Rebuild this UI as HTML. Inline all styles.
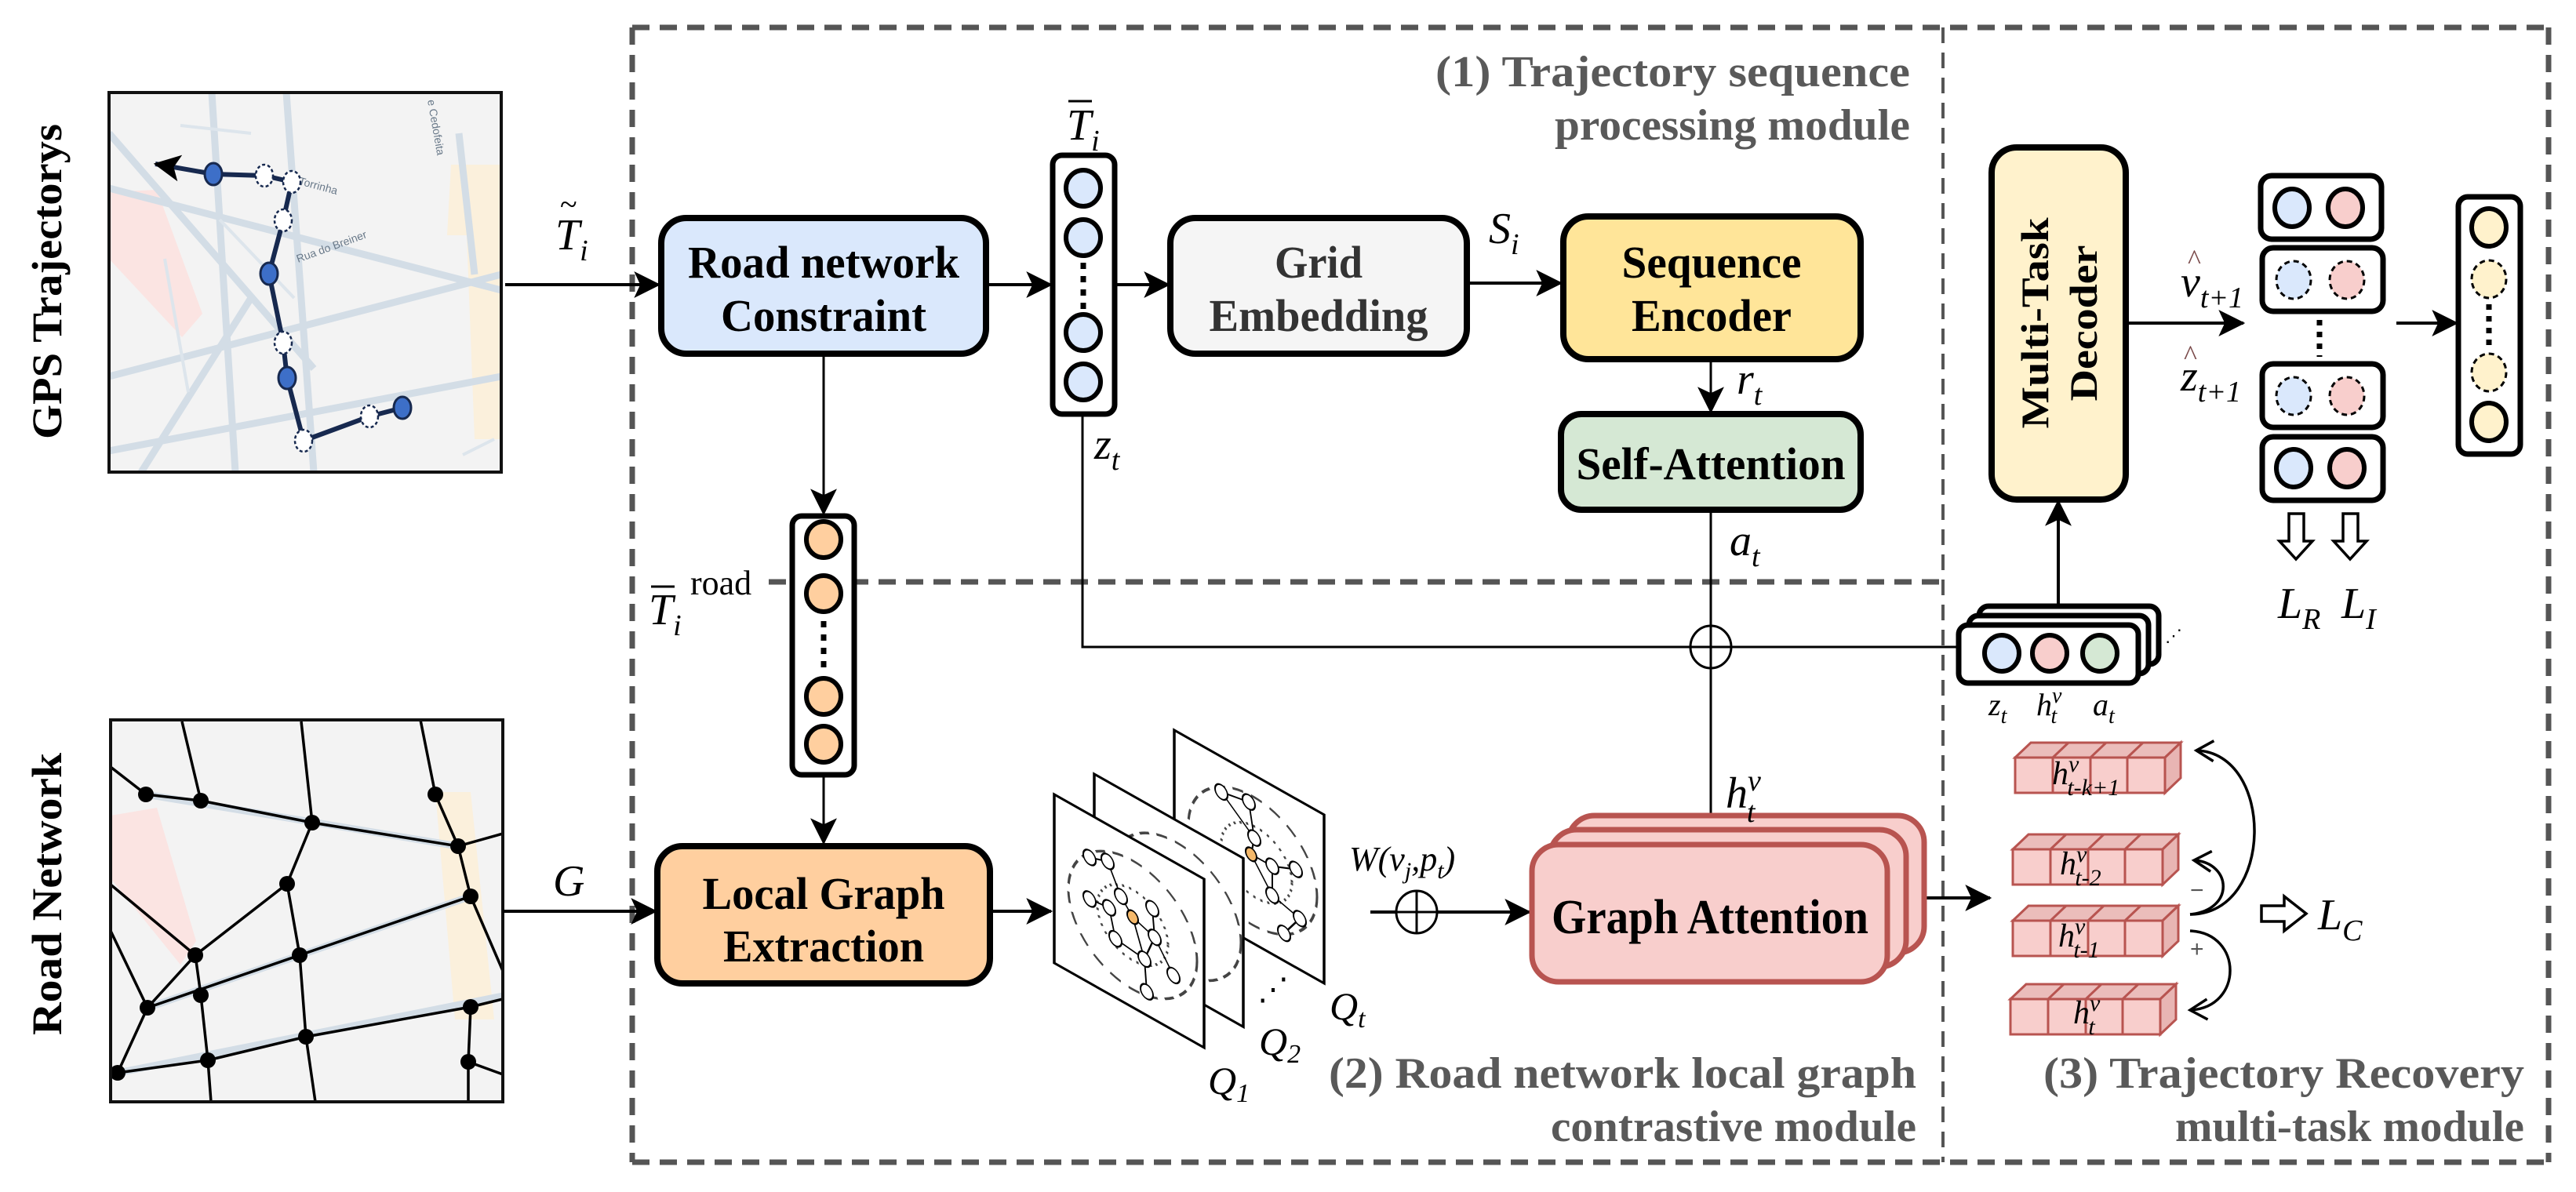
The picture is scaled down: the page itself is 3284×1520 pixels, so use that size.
<!DOCTYPE html>
<html><head><meta charset="utf-8"><style>
html,body{margin:0;padding:0;background:#fff;}
svg{display:block;}
.b{font-family:"Liberation Serif",serif;font-weight:bold;}
.m{font-family:"Liberation Serif",serif;font-style:italic;}
.g{font-family:"Liberation Serif",serif;font-weight:bold;fill:#595959;}
</style></head><body>
<svg width="3284" height="1520" viewBox="0 0 3284 1520" xmlns="http://www.w3.org/2000/svg">
<defs>
<marker id="ah" viewBox="0 0 20 20" refX="18" refY="10" markerWidth="20" markerHeight="20" markerUnits="userSpaceOnUse" orient="auto">
<path d="M0,0 L20,10 L0,20 L5,10 Z" fill="#000"/></marker>
<marker id="ahb" viewBox="0 0 30 30" refX="28" refY="15" markerWidth="34" markerHeight="34" markerUnits="userSpaceOnUse" orient="auto-start-reverse">
<path d="M0,0 L30,15 L0,30 L7,15 Z" fill="#000"/></marker>
<marker id="oa" viewBox="0 0 30 30" refX="26" refY="15" markerWidth="30" markerHeight="30" markerUnits="userSpaceOnUse" orient="auto">
<path d="M4,2 L26,15 L4,28" fill="none" stroke="#000" stroke-width="3.5"/></marker>
</defs>

<g stroke="#555" stroke-width="7" stroke-dasharray="22,13" fill="none">
<line x1="806" y1="35" x2="3249" y2="35"/>
<line x1="806" y1="35" x2="806" y2="1482"/>
<line x1="806" y1="1482" x2="3249" y2="1482"/>
<line x1="3249" y1="35" x2="3249" y2="1482"/>
<line x1="980" y1="742" x2="2477" y2="742"/>
</g>
<line x1="2477" y1="35" x2="2477" y2="1482" stroke="#555" stroke-width="4" stroke-dasharray="20,12"/>

<text class="g" x="2435" y="110" font-size="56" text-anchor="end" textLength="605" lengthAdjust="spacingAndGlyphs">(1)  Trajectory sequence</text>
<text class="g" x="2435" y="178" font-size="56" text-anchor="end" textLength="453" lengthAdjust="spacingAndGlyphs">processing module</text>
<text class="g" x="2443" y="1387" font-size="56" text-anchor="end" textLength="749" lengthAdjust="spacingAndGlyphs">(2)  Road network local graph</text>
<text class="g" x="2443" y="1455" font-size="56" text-anchor="end" textLength="466" lengthAdjust="spacingAndGlyphs">contrastive module</text>
<text class="g" x="3218" y="1387" font-size="56" text-anchor="end" textLength="613" lengthAdjust="spacingAndGlyphs">(3)  Trajectory Recovery</text>
<text class="g" x="3218" y="1455" font-size="56" text-anchor="end" textLength="445" lengthAdjust="spacingAndGlyphs">multi-task module</text>

<text class="b" font-size="54" transform="translate(78,359) rotate(-90)" text-anchor="middle" textLength="402" lengthAdjust="spacingAndGlyphs">GPS Trajectorys</text>
<text class="b" font-size="54" transform="translate(78,1140) rotate(-90)" text-anchor="middle" textLength="360" lengthAdjust="spacingAndGlyphs">Road Network</text>

<svg x="139" y="118" width="500" height="484" viewBox="139 118 500 484">
<rect x="139" y="118" width="500" height="484" fill="#f3f3f3"/>
<polygon points="139,245 200,242 258,400 232,430 139,330" fill="#fbe4e2"/>
<polygon points="575,210 645,210 655,560 605,560 595,300 570,300" fill="#fbf0dc"/>
<g stroke="#d3dde6" stroke-width="9" fill="none">
<line x1="139" y1="240" x2="639" y2="370" />
<line x1="139" y1="480" x2="639" y2="350"/>
<line x1="139" y1="575" x2="639" y2="480"/>
<line x1="139" y1="170" x2="400" y2="470"/>
<line x1="365" y1="118" x2="400" y2="602"/>
<line x1="270" y1="118" x2="300" y2="602"/>
<line x1="585" y1="170" x2="605" y2="350"/>
<line x1="320" y1="380" x2="180" y2="602"/>
</g>
<g stroke="#dde5ec" stroke-width="4" fill="none">
<line x1="375" y1="380" x2="280" y2="280"/><line x1="210" y1="330" x2="240" y2="500"/>
<line x1="230" y1="160" x2="320" y2="170"/><line x1="590" y1="580" x2="630" y2="560"/>
</g>
<text x="380" y="335" font-family="Liberation Sans,sans-serif" font-size="14" fill="#6a7a8a" transform="rotate(-20 380 335)">Rua do Breiner</text>
<text x="380" y="235" font-family="Liberation Sans,sans-serif" font-size="14" fill="#6a7a8a" transform="rotate(15 380 235)">Torrinha</text>
<text x="545" y="128" font-family="Liberation Sans,sans-serif" font-size="14" fill="#6a7a8a" transform="rotate(80 545 128)">e Cedofeita</text>
<polyline points="198,209 272,222 337,224 372,232 361,281 343,349 361,437 366,482 387,562 471,531 513,520" fill="none" stroke="#17294f" stroke-width="6" marker-start="url(#ahb)"/>
<g stroke="#17294f" stroke-width="3">
<ellipse cx="272" cy="222" rx="11" ry="14" fill="#3d6fc8"/>
<ellipse cx="343" cy="349" rx="11" ry="14" fill="#3d6fc8"/>
<ellipse cx="366" cy="482" rx="11" ry="14" fill="#3d6fc8"/>
<ellipse cx="513" cy="520" rx="11" ry="14" fill="#3d6fc8"/>
</g>
<g stroke="#17294f" stroke-width="2.5" fill="#fff" stroke-dasharray="4,3">
<ellipse cx="337" cy="224" rx="11" ry="14"/><ellipse cx="372" cy="232" rx="11" ry="14"/>
<ellipse cx="361" cy="281" rx="11" ry="14"/><ellipse cx="361" cy="437" rx="11" ry="14"/>
<ellipse cx="387" cy="562" rx="11" ry="14"/><ellipse cx="471" cy="531" rx="11" ry="14"/>
</g>
</svg>
<rect x="139" y="118" width="500" height="484" fill="none" stroke="#111" stroke-width="4"/>

<svg x="141" y="918" width="500" height="487" viewBox="141 918 500 487">
<rect x="141" y="918" width="500" height="487" fill="#f3f3f3"/>
<polygon points="141,1040 200,1030 250,1200 230,1230 141,1120" fill="#fbe4e2"/>
<polygon points="555,1010 600,1010 630,1300 580,1300" fill="#fbf0dc"/>
<g stroke="#d3dde6" stroke-width="9" fill="none">
<line x1="186" y1="1013" x2="584" y2="1079"/><line x1="188" y1="1285" x2="600" y2="1143"/>
<line x1="150" y1="1368" x2="641" y2="1270"/>
</g>
<g stroke="#000" stroke-width="3.5" fill="none">
<polyline points="141,978 186,1013 256,1021 398,1049 584,1079 641,1063"/>
<line x1="232" y1="920" x2="256" y2="1021"/>
<polyline points="384,920 398,1049 366,1127 382,1218 390,1322 402,1405"/>
<polyline points="536,918 555,1013 584,1079 600,1143 641,1238"/>
<polyline points="600,1143 382,1218 188,1285"/>
<line x1="366" y1="1127" x2="249" y2="1218"/>
<line x1="141" y1="1128" x2="249" y2="1218"/>
<polyline points="249,1218 256,1269 265,1352 269,1405"/>
<line x1="249" y1="1218" x2="188" y2="1285"/>
<line x1="141" y1="1187" x2="188" y2="1285"/>
<line x1="188" y1="1285" x2="150" y2="1368"/>
<polyline points="150,1368 265,1352 390,1322 600,1284 641,1274"/>
<polyline points="600,1284 597,1354 597,1405"/>
<line x1="597" y1="1354" x2="641" y2="1370"/>
</g>
<g fill="#000">
<circle cx="186" cy="1013" r="10"/><circle cx="256" cy="1021" r="10"/><circle cx="398" cy="1049" r="10"/>
<circle cx="555" cy="1013" r="10"/><circle cx="584" cy="1079" r="10"/><circle cx="366" cy="1127" r="10"/>
<circle cx="600" cy="1143" r="10"/><circle cx="249" cy="1218" r="10"/><circle cx="382" cy="1218" r="10"/>
<circle cx="256" cy="1269" r="10"/><circle cx="188" cy="1285" r="10"/><circle cx="390" cy="1322" r="10"/>
<circle cx="600" cy="1284" r="10"/><circle cx="265" cy="1352" r="10"/><circle cx="150" cy="1368" r="10"/>
<circle cx="597" cy="1354" r="10"/>
</g>
</svg>
<rect x="141" y="918" width="500" height="487" fill="none" stroke="#111" stroke-width="4"/>

<g stroke="#000" stroke-width="4" fill="none">
<line x1="644" y1="363" x2="840" y2="363" marker-end="url(#ahb)"/>
<line x1="1257" y1="363" x2="1340" y2="363" marker-end="url(#ahb)"/>
<line x1="1421" y1="363" x2="1490" y2="363" marker-end="url(#ahb)"/>
<line x1="1870" y1="361" x2="1990" y2="361" marker-end="url(#ahb)"/>
<line x1="2181" y1="458" x2="2181" y2="525" stroke-width="3" marker-end="url(#ahb)"/>
<line x1="1050" y1="451" x2="1050" y2="655" stroke-width="3" marker-end="url(#ahb)"/>
<line x1="1050" y1="988" x2="1050" y2="1075" stroke-width="3" marker-end="url(#ahb)"/>
<line x1="641" y1="1162" x2="836" y2="1162" marker-end="url(#ahb)"/>
<line x1="1262" y1="1162" x2="1340" y2="1162" marker-end="url(#ahb)"/>
<line x1="1747" y1="1163" x2="1950" y2="1163" marker-end="url(#ahb)"/>
<line x1="2432" y1="1145" x2="2537" y2="1145" marker-end="url(#ahb)"/>
<line x1="2710" y1="412" x2="2860" y2="412" marker-end="url(#ahb)"/>
<line x1="3055" y1="412" x2="3132" y2="412" marker-end="url(#ahb)"/>
<line x1="2624" y1="770" x2="2624" y2="639" marker-end="url(#ahb)"/>
</g>
<g stroke="#000" stroke-width="3" fill="none">
<polyline points="1380,528 1380,825 2497,825"/>
<line x1="2181" y1="650" x2="2181" y2="1063"/>
<ellipse cx="2181" cy="825" rx="26" ry="27" fill="#fff"/>
<line x1="2155" y1="825" x2="2207" y2="825"/><line x1="2181" y1="798" x2="2181" y2="852"/>
<ellipse cx="1806" cy="1163" rx="26" ry="27" fill="#fff"/>
<line x1="1780" y1="1163" x2="1832" y2="1163"/><line x1="1806" y1="1136" x2="1806" y2="1190"/>
</g>

<g stroke="#000" stroke-width="8">
<rect x="843" y="278" width="414" height="173" rx="32" fill="#dae8fc"/>
<rect x="1492" y="278" width="378" height="173" rx="32" fill="#f5f5f5"/>
<rect x="1993" y="276" width="379" height="182" rx="32" fill="#ffe599"/>
<rect x="1990" y="528" width="382" height="122" rx="26" fill="#d5e8d4"/>
<rect x="838" y="1079" width="424" height="175" rx="32" fill="#ffcf9f"/>
<rect x="2539" y="188" width="171" height="449" rx="32" fill="#fff2cc"/>
</g>
<text class="b" x="1050" y="354" font-size="58" text-anchor="middle" textLength="346" lengthAdjust="spacingAndGlyphs">Road network</text>
<text class="b" x="1050" y="422" font-size="58" text-anchor="middle" textLength="262" lengthAdjust="spacingAndGlyphs">Constraint</text>
<text class="b" x="1681" y="354" font-size="58" text-anchor="middle" fill="#333" textLength="112" lengthAdjust="spacingAndGlyphs">Grid</text>
<text class="b" x="1681" y="422" font-size="58" text-anchor="middle" fill="#333" textLength="279" lengthAdjust="spacingAndGlyphs">Embedding</text>
<text class="b" x="2182" y="354" font-size="58" text-anchor="middle" textLength="229" lengthAdjust="spacingAndGlyphs">Sequence</text>
<text class="b" x="2182" y="422" font-size="58" text-anchor="middle" textLength="204" lengthAdjust="spacingAndGlyphs">Encoder</text>
<text class="b" x="2181" y="611" font-size="58" text-anchor="middle" textLength="343" lengthAdjust="spacingAndGlyphs">Self-Attention</text>
<text class="b" x="1050" y="1159" font-size="58" text-anchor="middle" textLength="309" lengthAdjust="spacingAndGlyphs">Local Graph</text>
<text class="b" x="1050" y="1226" font-size="58" text-anchor="middle" textLength="256" lengthAdjust="spacingAndGlyphs">Extraction</text>
<g transform="translate(2625,412) rotate(-90)">
<text class="b" x="0" y="-14" font-size="50" text-anchor="middle" textLength="269" lengthAdjust="spacingAndGlyphs">Multi-Task</text>
<text class="b" x="0" y="48" font-size="50" text-anchor="middle" textLength="199" lengthAdjust="spacingAndGlyphs">Decoder</text>
</g>

<g stroke="#b85450" stroke-width="7" fill="#f8cecc">
<rect x="1999" y="1040" width="454" height="175" rx="34"/>
<rect x="1976" y="1058" width="454" height="175" rx="34"/>
<rect x="1953" y="1077" width="453" height="175" rx="34"/>
</g>
<text class="b" x="2180" y="1190" font-size="62" text-anchor="middle" textLength="404" lengthAdjust="spacingAndGlyphs">Graph Attention</text>

<rect x="1342" y="198" width="79" height="330" rx="12" fill="#fff" stroke="#000" stroke-width="7"/>
<g fill="#dae8fc" stroke="#000" stroke-width="6">
<ellipse cx="1381" cy="240" rx="22" ry="23"/><ellipse cx="1381" cy="303" rx="22" ry="23"/>
<ellipse cx="1381" cy="424" rx="22" ry="23"/><ellipse cx="1381" cy="487" rx="22" ry="23"/>
</g>
<line x1="1381" y1="335" x2="1381" y2="395" stroke="#000" stroke-width="7" stroke-dasharray="8,9"/>

<rect x="1010" y="658" width="79" height="330" rx="12" fill="#fff" stroke="#000" stroke-width="7"/>
<g fill="#ffcf9f" stroke="#000" stroke-width="6">
<ellipse cx="1050" cy="688" rx="22" ry="23"/><ellipse cx="1050" cy="757" rx="22" ry="23"/>
<ellipse cx="1050" cy="888" rx="22" ry="23"/><ellipse cx="1050" cy="949" rx="22" ry="23"/>
</g>
<line x1="1050" y1="792" x2="1050" y2="852" stroke="#000" stroke-width="7" stroke-dasharray="8,9"/>

<g stroke="#000" stroke-width="7" fill="#fff">
<rect x="2882" y="224" width="154" height="81" rx="14"/>
<rect x="2884" y="316" width="154" height="81" rx="14"/>
<rect x="2884" y="464" width="154" height="81" rx="14"/>
<rect x="2884" y="557" width="154" height="81" rx="14"/>
</g>
<g stroke="#000" stroke-width="6">
<ellipse cx="2922" cy="265" rx="22" ry="24" fill="#dae8fc"/><ellipse cx="2990" cy="265" rx="22" ry="24" fill="#f8cecc"/>
<ellipse cx="2924" cy="597" rx="22" ry="24" fill="#dae8fc"/><ellipse cx="2992" cy="597" rx="22" ry="24" fill="#f8cecc"/>
</g>
<g stroke="#000" stroke-width="3" stroke-dasharray="7,5">
<ellipse cx="2924" cy="357" rx="22" ry="24" fill="#dae8fc"/><ellipse cx="2992" cy="357" rx="22" ry="24" fill="#f8cecc"/>
<ellipse cx="2924" cy="505" rx="22" ry="24" fill="#dae8fc"/><ellipse cx="2992" cy="505" rx="22" ry="24" fill="#f8cecc"/>
</g>
<line x1="2957" y1="408" x2="2957" y2="455" stroke="#000" stroke-width="7" stroke-dasharray="7,8"/>

<rect x="3134" y="251" width="79" height="328" rx="12" fill="#fff" stroke="#000" stroke-width="7"/>
<ellipse cx="3173" cy="290" rx="22" ry="24" fill="#fff2cc" stroke="#000" stroke-width="6"/>
<ellipse cx="3173" cy="538" rx="22" ry="24" fill="#fff2cc" stroke="#000" stroke-width="6"/>
<ellipse cx="3173" cy="356" rx="22" ry="24" fill="#fff2cc" stroke="#000" stroke-width="3" stroke-dasharray="7,5"/>
<ellipse cx="3173" cy="475" rx="22" ry="24" fill="#fff2cc" stroke="#000" stroke-width="3" stroke-dasharray="7,5"/>
<line x1="3173" y1="388" x2="3173" y2="445" stroke="#000" stroke-width="7" stroke-dasharray="7,8"/>

<g fill="#fff" stroke="#000" stroke-width="3.5">
<path d="M2918,655 L2937,655 L2937,690 L2948,690 L2927,713 L2906,690 L2918,690 Z"/>
<path d="M2987,655 L3006,655 L3006,690 L3017,690 L2996,713 L2975,690 L2987,690 Z"/>
<path d="M2883,1155 L2912,1155 L2912,1143 L2940,1165 L2912,1187 L2912,1175 L2883,1175 Z"/>
</g>

<g stroke="#000" stroke-width="7" fill="#fff">
<rect x="2523" y="773" width="229" height="74" rx="12"/>
<rect x="2510" y="785" width="229" height="74" rx="12"/>
<rect x="2497" y="797" width="229" height="74" rx="12"/>
</g>
<g stroke="#000" stroke-width="6">
<ellipse cx="2552" cy="833" rx="22" ry="23" fill="#dae8fc"/>
<ellipse cx="2613" cy="833" rx="22" ry="23" fill="#f8cecc"/>
<ellipse cx="2677" cy="833" rx="22" ry="23" fill="#d5e8d4"/>
</g>
<text x="2760" y="818" font-size="22" fill="#000" font-family="Liberation Serif,serif">⋰</text>

<g stroke="#000" stroke-width="3.5">
<g transform="matrix(1,0.565,0,1,1497,931)">
<rect x="0" y="0" width="191" height="215" fill="#fff"/>
<ellipse cx="100" cy="110" rx="82" ry="82" fill="none" stroke="#444" stroke-width="3" stroke-dasharray="14,10"/>
<ellipse cx="105" cy="110" rx="45" ry="45" fill="none" stroke="#444" stroke-width="3" stroke-dasharray="3,6"/>
<g stroke-width="2" fill="#fff"><line x1="60" y1="45" x2="95" y2="38"/><line x1="95" y1="38" x2="102" y2="80"/><line x1="60" y1="45" x2="102" y2="80"/><line x1="102" y1="80" x2="98" y2="103"/><line x1="98" y1="103" x2="125" y2="103"/><line x1="125" y1="103" x2="125" y2="140"/><line x1="98" y1="103" x2="125" y2="140"/><line x1="125" y1="140" x2="160" y2="150"/><line x1="160" y1="150" x2="140" y2="180"/><line x1="125" y1="103" x2="155" y2="90"/>
<ellipse cx="60" cy="45" rx="8" ry="9"/><ellipse cx="95" cy="38" rx="8" ry="9"/><ellipse cx="102" cy="80" rx="8" ry="9"/><ellipse cx="125" cy="103" rx="8" ry="9"/><ellipse cx="125" cy="140" rx="8" ry="9"/><ellipse cx="160" cy="150" rx="8" ry="9"/><ellipse cx="140" cy="180" rx="8" ry="9"/><ellipse cx="155" cy="90" rx="8" ry="9"/><ellipse cx="98" cy="103" rx="7" ry="8" fill="#f5b96b"/></g>
</g>
<g transform="matrix(1,0.565,0,1,1395,987)">
<rect x="0" y="0" width="190" height="215" fill="#fff"/>
<ellipse cx="105" cy="110" rx="82" ry="82" fill="none" stroke="#444" stroke-width="3" stroke-dasharray="14,10"/>
</g>
<g transform="matrix(1,0.565,0,1,1344,1013)">
<rect x="0" y="0" width="191" height="215" fill="#fff"/>
<ellipse cx="100" cy="110" rx="82" ry="82" fill="none" stroke="#444" stroke-width="3" stroke-dasharray="14,10"/>
<ellipse cx="100" cy="110" rx="45" ry="45" fill="none" stroke="#444" stroke-width="3" stroke-dasharray="3,6"/>
<g stroke-width="2" fill="#fff"><line x1="45" y1="55" x2="68" y2="47"/><line x1="68" y1="47" x2="85" y2="82"/><line x1="85" y1="82" x2="100" y2="100"/><line x1="100" y1="100" x2="128" y2="110"/><line x1="128" y1="110" x2="125" y2="75"/><line x1="100" y1="100" x2="115" y2="145"/><line x1="128" y1="110" x2="115" y2="145"/><line x1="115" y1="145" x2="78" y2="140"/><line x1="78" y1="140" x2="70" y2="105"/><line x1="70" y1="105" x2="45" y2="108"/><line x1="128" y1="110" x2="152" y2="145"/><line x1="115" y1="145" x2="118" y2="185"/>
<ellipse cx="45" cy="55" rx="8" ry="9"/><ellipse cx="68" cy="47" rx="8" ry="9"/><ellipse cx="85" cy="82" rx="8" ry="9"/><ellipse cx="128" cy="110" rx="8" ry="9"/><ellipse cx="125" cy="75" rx="8" ry="9"/><ellipse cx="115" cy="145" rx="8" ry="9"/><ellipse cx="78" cy="140" rx="8" ry="9"/><ellipse cx="70" cy="105" rx="8" ry="9"/><ellipse cx="45" cy="108" rx="8" ry="9"/><ellipse cx="152" cy="145" rx="8" ry="9"/><ellipse cx="118" cy="185" rx="8" ry="9"/><ellipse cx="100" cy="100" rx="7" ry="8" fill="#f5b96b"/></g>
</g>
</g>
<text class="m" x="1540" y="1395" font-size="50">Q<tspan font-size="34" dy="10">1</tspan></text>
<text class="m" x="1605" y="1345" font-size="50">Q<tspan font-size="34" dy="10">2</tspan></text>
<text class="m" x="1695" y="1300" font-size="50">Q<tspan font-size="34" dy="10">t</tspan></text>
<text x="1603" y="1275" font-size="40" font-family="Liberation Serif,serif">⋰</text>

<g stroke="#b85450" stroke-width="3">
<g transform="translate(2569,966)"><polygon points="0,0 20,-19 211,-19 191,0" fill="#ebbdbb"/><polygon points="191,0 211,-19 211,26 191,45" fill="#e8b5b3"/><rect x="0" y="0" width="191" height="45" fill="#f8cecc"/><line x1="48" y1="0" x2="48" y2="45"/><line x1="96" y1="0" x2="96" y2="45"/><line x1="143" y1="0" x2="143" y2="45"/><line x1="48" y1="0" x2="68" y2="-19"/><line x1="96" y1="0" x2="116" y2="-19"/><line x1="143" y1="0" x2="163" y2="-19"/></g>
<g transform="translate(2566,1083)"><polygon points="0,0 20,-19 211,-19 191,0" fill="#ebbdbb"/><polygon points="191,0 211,-19 211,26 191,45" fill="#e8b5b3"/><rect x="0" y="0" width="191" height="45" fill="#f8cecc"/><line x1="48" y1="0" x2="48" y2="45"/><line x1="96" y1="0" x2="96" y2="45"/><line x1="143" y1="0" x2="143" y2="45"/><line x1="48" y1="0" x2="68" y2="-19"/><line x1="96" y1="0" x2="116" y2="-19"/><line x1="143" y1="0" x2="163" y2="-19"/></g>
<g transform="translate(2566,1174)"><polygon points="0,0 20,-19 211,-19 191,0" fill="#ebbdbb"/><polygon points="191,0 211,-19 211,26 191,45" fill="#e8b5b3"/><rect x="0" y="0" width="191" height="45" fill="#f8cecc"/><line x1="48" y1="0" x2="48" y2="45"/><line x1="96" y1="0" x2="96" y2="45"/><line x1="143" y1="0" x2="143" y2="45"/><line x1="48" y1="0" x2="68" y2="-19"/><line x1="96" y1="0" x2="116" y2="-19"/><line x1="143" y1="0" x2="163" y2="-19"/></g>
<g transform="translate(2563,1274)"><polygon points="0,0 20,-19 211,-19 191,0" fill="#ebbdbb"/><polygon points="191,0 211,-19 211,26 191,45" fill="#e8b5b3"/><rect x="0" y="0" width="191" height="45" fill="#f8cecc"/><line x1="48" y1="0" x2="48" y2="45"/><line x1="96" y1="0" x2="96" y2="45"/><line x1="143" y1="0" x2="143" y2="45"/><line x1="48" y1="0" x2="68" y2="-19"/><line x1="96" y1="0" x2="116" y2="-19"/><line x1="143" y1="0" x2="163" y2="-19"/></g>
</g>
<g class="m" font-size="42">
<text x="2616" y="1000">h<tspan font-size="30" dy="-16">v</tspan><tspan font-size="30" dx="-15" dy="30">t-k+1</tspan></text>
<text x="2626" y="1115">h<tspan font-size="30" dy="-16">v</tspan><tspan font-size="30" dx="-15" dy="30">t-2</tspan></text>
<text x="2624" y="1207">h<tspan font-size="30" dy="-16">v</tspan><tspan font-size="30" dx="-15" dy="30">t-1</tspan></text>
<text x="2643" y="1305">h<tspan font-size="30" dy="-16">v</tspan><tspan font-size="30" dx="-15" dy="30">t</tspan></text>
</g>
<g stroke="#000" stroke-width="3.5" fill="none">
<path d="M2792,1166 C2900,1166 2900,960 2800,957" marker-end="url(#oa)"/>
<path d="M2792,1166 C2850,1160 2845,1100 2797,1097" marker-end="url(#oa)"/>
<path d="M2792,1187 C2860,1190 2860,1285 2792,1288" marker-end="url(#oa)"/>
</g>
<text x="2792" y="1145" font-size="30" fill="#555" font-family="Liberation Sans,sans-serif">−</text>
<text x="2792" y="1220" font-size="30" fill="#555" font-family="Liberation Sans,sans-serif">+</text>

<g class="m" font-size="56">
<text x="708" y="318">T<tspan font-size="38" dy="14">i</tspan></text>
<text x="714" y="274" font-size="40" font-style="normal">~</text>
<text x="1360" y="178">T<tspan font-size="38" dy="14">i</tspan></text>
<line x1="1362" y1="129" x2="1392" y2="129" stroke="#000" stroke-width="3"/>
<text x="1395" y="585">z<tspan font-size="38" dy="14">t</tspan></text>
<text x="1898" y="310">S<tspan font-size="38" dy="14">i</tspan></text>
<text x="2214" y="502">r<tspan font-size="38" dy="14">t</tspan></text>
<text x="2205" y="708">a<tspan font-size="38" dy="14">t</tspan></text>
<text x="2200" y="1030">h<tspan font-size="38" dy="-22">v</tspan><tspan font-size="38" dx="-18" dy="40">t</tspan></text>
<text x="827" y="796">T<tspan font-size="38" dy="14">i</tspan></text>
<line x1="830" y1="748" x2="860" y2="748" stroke="#000" stroke-width="3"/>
<text x="880" y="758" font-style="normal" font-size="44">road</text>
<text x="705" y="1142">G</text>
<text x="2780" y="378">v<tspan font-size="38" dy="14">t+1</tspan></text>
<text x="2789" y="343" font-size="36" font-style="normal" fill="#7a4a4a">^</text>
<text x="2780" y="498">z<tspan font-size="38" dy="14">t+1</tspan></text>
<text x="2784" y="465" font-size="36" font-style="normal" fill="#7a4a4a">^</text>
<text x="2904" y="788">L<tspan font-size="38" dy="14">R</tspan></text>
<text x="2985" y="788">L<tspan font-size="38" dy="14">I</tspan></text>
<text x="2955" y="1185">L<tspan font-size="38" dy="14">C</tspan></text>
<text x="1720" y="1110" font-size="44">W(v<tspan font-size="30" dy="10">j</tspan><tspan dy="-10">,p</tspan><tspan font-size="30" dy="10">t</tspan><tspan dy="-10">)</tspan></text>
</g>
<g class="m" font-size="40">
<text x="2535" y="912">z<tspan font-size="28" dy="10">t</tspan></text>
<text x="2596" y="912">h<tspan font-size="28" dy="-16">v</tspan><tspan font-size="28" dx="-14" dy="26">t</tspan></text>
<text x="2668" y="912">a<tspan font-size="28" dy="10">t</tspan></text>
</g>
</svg>
</body></html>
